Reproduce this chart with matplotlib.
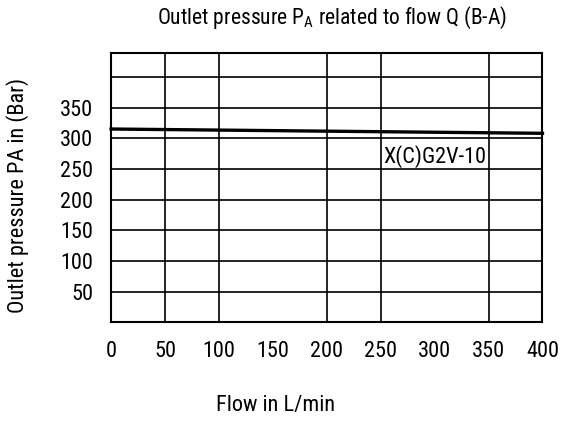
import matplotlib
matplotlib.use("Agg")
import matplotlib.pyplot as plt

# curve values
flow = [0, 400]
pressure = [315, 308]
curve_label = "X(C)G2V-10"

x_ticks = [0, 50, 100, 150, 200, 250, 300, 350, 400]
y_ticks = [50, 100, 150, 200, 250, 300, 350]
x_grid = [50, 100, 200, 250, 350]
y_grid = [50, 100, 150, 200, 250, 300, 350, 400]

plt.rcParams["font.family"] = ["Roboto Condensed", "Liberation Sans Narrow", "DejaVu Sans"]

fig = plt.figure(figsize=(5.61, 4.21), dpi=100)
ax = fig.add_axes([0.198, 0.234, 0.769, 0.639])

# grid is irregular in the original (no lines at 150 and 300 L/min)
for xv in x_grid:
    ax.axvline(xv, color="black", linewidth=1.2, zorder=1)
for yv in y_grid:
    ax.axhline(yv, color="black", linewidth=1.2, zorder=1)

ax.plot(flow, pressure, color="black", linewidth=2.4, zorder=3, clip_on=False)
ax.text(252, 289, curve_label, fontsize=16, ha="left", va="top", zorder=4)

ax.set_xlim(0, 400)
ax.set_ylim(0, 438)
ax.set_xticks(x_ticks)
ax.set_yticks(y_ticks)
ax.tick_params(length=0, labelsize=16, pad=13)
for spine in ax.spines.values():
    spine.set_linewidth(1.5)

fig.text(18 / 561, 1 - 195 / 421, "Outlet pressure PA in (Bar)", fontsize=16,
         rotation=90, ha="center", va="center")
fig.text(276 / 561, 1 - 406 / 421, "Flow in L/min", fontsize=16, ha="center", va="center")
fig.text(332 / 561, 1 - 18 / 421, "Outlet pressure P$_\\mathregular{A}$ related to flow Q (B-A)",
         fontsize=15.5, ha="center", va="center")

fig.savefig("out.png", dpi=100)
